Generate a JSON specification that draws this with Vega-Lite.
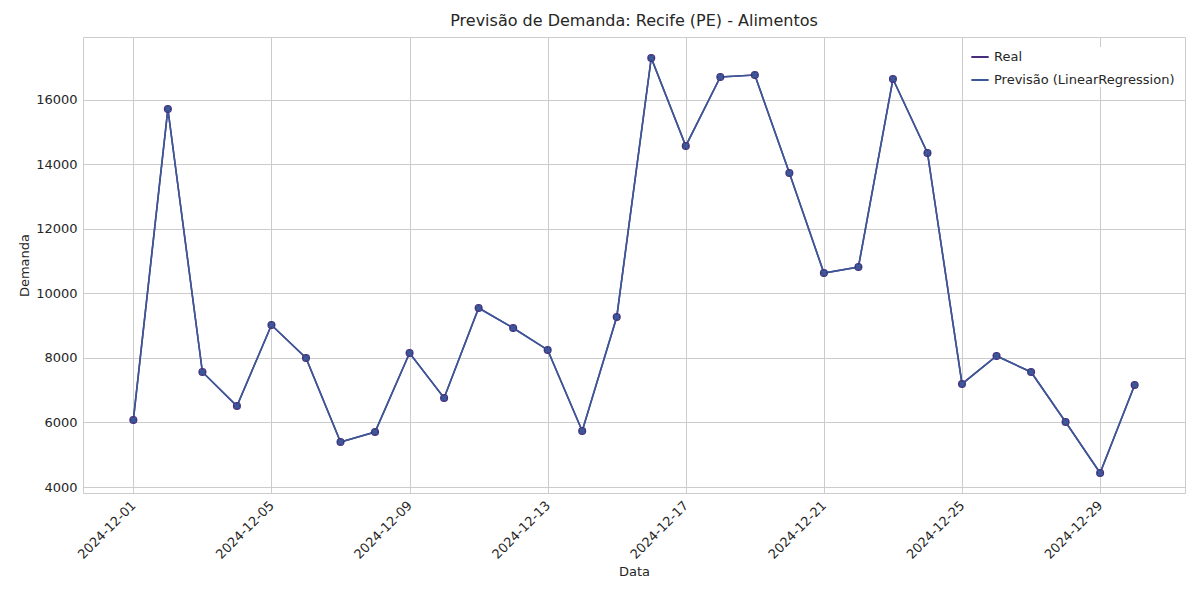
{
  "$schema": "https://vega.github.io/schema/vega-lite/v6.json",
  "autosize": "none",
  "width": 1102,
  "height": 456,
  "padding": {"left": 83, "top": 37, "right": 15, "bottom": 107},
  "background": "white",
  "title": {"text": "Previsão de Demanda: Recife (PE) - Alimentos", "fontSize": 16, "font": "DejaVu Sans", "fontWeight": "normal", "color": "#262626", "offset": 8},
  "datasets": {
    "d": [
      {"date": "2024-12-01", "v": 6080}, {"date": "2024-12-02", "v": 15720}, {"date": "2024-12-03", "v": 7566},
      {"date": "2024-12-04", "v": 6512}, {"date": "2024-12-05", "v": 9023}, {"date": "2024-12-06", "v": 8000},
      {"date": "2024-12-07", "v": 5395}, {"date": "2024-12-08", "v": 5705}, {"date": "2024-12-09", "v": 8155},
      {"date": "2024-12-10", "v": 6760}, {"date": "2024-12-11", "v": 9550}, {"date": "2024-12-12", "v": 8930},
      {"date": "2024-12-13", "v": 8250}, {"date": "2024-12-14", "v": 5736}, {"date": "2024-12-15", "v": 9271},
      {"date": "2024-12-16", "v": 17302}, {"date": "2024-12-17", "v": 14574}, {"date": "2024-12-18", "v": 16713},
      {"date": "2024-12-19", "v": 16775}, {"date": "2024-12-20", "v": 13736}, {"date": "2024-12-21", "v": 10636},
      {"date": "2024-12-22", "v": 10822}, {"date": "2024-12-23", "v": 16651}, {"date": "2024-12-24", "v": 14357},
      {"date": "2024-12-25", "v": 7194}, {"date": "2024-12-26", "v": 8062}, {"date": "2024-12-27", "v": 7566},
      {"date": "2024-12-28", "v": 6016}, {"date": "2024-12-29", "v": 4434}, {"date": "2024-12-30", "v": 7163}
    ]
  },
  "data": {"name": "d"},
  "transform": [
    {"calculate": "datum.v", "as": "Real"},
    {"calculate": "datum.v", "as": "Previsão (LinearRegression)"},
    {"fold": ["Real", "Previsão (LinearRegression)"], "as": ["serie", "valor"]}
  ],
  "encoding": {
    "x": {
      "field": "date", "type": "temporal", "title": "Data",
      "scale": {"domain": ["2024-11-29T13:00:00", "2024-12-31T11:00:00"]},
      "axis": {"values": ["2024-12-01", "2024-12-05", "2024-12-09", "2024-12-13", "2024-12-17", "2024-12-21", "2024-12-25", "2024-12-29"], "format": "%Y-%m-%d", "labelAngle": -45, "labelAlign": "right", "labelBaseline": "middle", "labelPadding": 10}
    },
    "y": {"field": "valor", "type": "quantitative", "title": "Demanda", "scale": {"domain": [3814, 17953], "nice": false}, "axis": {"values": [4000, 6000, 8000, 10000, 12000, 14000, 16000], "format": "d"}},
    "color": {
      "field": "serie", "type": "nominal", "sort": ["Real", "Previsão (LinearRegression)"],
      "scale": {"domain": ["Real", "Previsão (LinearRegression)"], "range": ["#472d7b", "#3b5898"]},
      "legend": {"title": null, "orient": "top-right", "offset": 10, "symbolType": "stroke", "symbolSize": 300, "symbolStrokeWidth": 2, "labelFontSize": 13, "labelLimit": 400, "labelColor": "#262626", "fillColor": "white", "rowPadding": 6}
    }
  },
  "layer": [
    {"mark": {"type": "line", "strokeWidth": 1.6}},
    {"transform": [{"filter": "datum.serie == 'Real'"}], "mark": {"type": "point", "shape": "circle", "filled": true, "size": 65, "opacity": 1}},
    {"transform": [{"filter": "datum.serie != 'Real'"}], "mark": {"type": "point", "shape": "cross", "angle": 45, "filled": true, "size": 45, "opacity": 1}}
  ],
  "config": {
    "font": "DejaVu Sans",
    "view": {"stroke": "#cccccc"},
    "axis": {"grid": true, "gridColor": "#cccccc", "domain": false, "ticks": false, "labelFontSize": 13, "titleFontSize": 13, "labelColor": "#262626", "titleColor": "#262626", "titleFontWeight": "normal", "labelPadding": 6}
  }
}
